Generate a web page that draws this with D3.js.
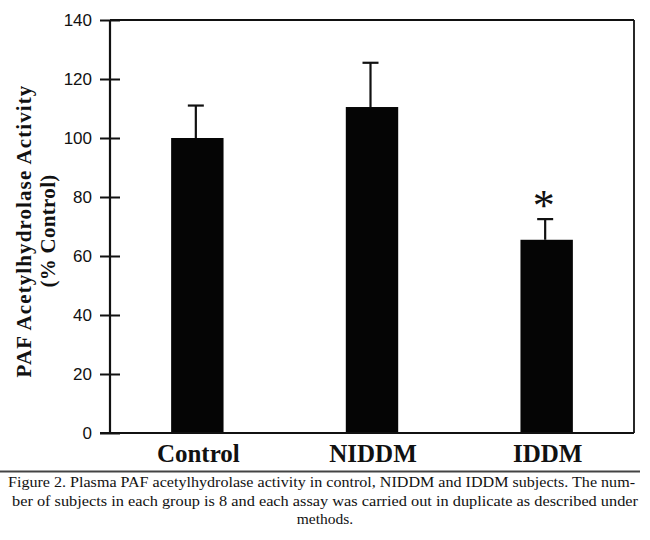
<!DOCTYPE html>
<html>
<head>
<meta charset="utf-8">
<script src="https://cdn.jsdelivr.net/npm/d3@7"></script>
<style>
  html, body { margin: 0; padding: 0; background: #fff; }
  svg { display: block; }
</style>
</head>
<body>
<svg id="chart" width="650" height="540"></svg>
<script>
const categories = ["Control", "NIDDM", "IDDM"];
const values = [100, 110.5, 65.5];
const errors = [11, 15, 7];
const significant = [false, false, true];
const yTicks = [0, 20, 40, 60, 80, 100, 120, 140];
const yLabelLines = ["PAF Acetylhydrolase Activity", "(% Control)"];
const captionLines = [
  "Figure 2. Plasma PAF acetylhydrolase activity in control, NIDDM and IDDM subjects. The num-",
  "ber of subjects in each group is 8 and each assay was carried out in duplicate as described under",
  "methods."
];

const svg = d3.select("#chart");
const plotLeft = 110, plotRight = 634, plotTop = 20, plotBottom = 433;

const x = d3.scaleBand().domain(categories).range([plotLeft, plotRight])
  .paddingInner(0.7).paddingOuter(0.35);
const y = d3.scaleLinear().domain([0, 140]).range([plotBottom, plotTop]);

// bars
svg.append("g").selectAll("rect").data(categories).join("rect")
  .attr("x", d => x(d))
  .attr("width", x.bandwidth())
  .attr("y", (d, i) => y(values[i]))
  .attr("height", (d, i) => y(0) - y(values[i]))
  .attr("fill", "#050505");

// error bars
const eg = svg.append("g").attr("stroke", "#111").attr("stroke-width", 2.2);
categories.forEach((c, i) => {
  const cx = x(c) + x.bandwidth() / 2 - 1.5;
  eg.append("line").attr("x1", cx).attr("x2", cx)
    .attr("y1", y(values[i])).attr("y2", y(values[i] + errors[i]));
  eg.append("line").attr("x1", cx - 8).attr("x2", cx + 8)
    .attr("y1", y(values[i] + errors[i])).attr("y2", y(values[i] + errors[i]));
});

// significance asterisk
svg.append("g").selectAll("text").data(categories.filter((c, i) => significant[i])).join("text")
  .attr("x", d => x(d) + x.bandwidth() / 2 - 3)
  .attr("y", d => y(values[categories.indexOf(d)] + errors[categories.indexOf(d)]) + 1)
  .attr("text-anchor", "middle")
  .attr("font-family", "Liberation Serif")
  .attr("font-size", 44)
  .attr("fill", "#111")
  .text("*");

// y axis
const yAxis = d3.axisLeft(y).tickValues(yTicks).tickSize(10).tickPadding(8);
const ya = svg.append("g").attr("transform", `translate(${plotLeft},0)`).call(yAxis);
ya.select(".domain").remove();
ya.selectAll(".tick line").attr("x1", 10).attr("x2", -10).attr("stroke", "#111").attr("stroke-width", 2);
ya.selectAll(".tick text").attr("font-family", "Liberation Sans").attr("font-size", 17).attr("fill", "#111");

// frame
const fg = svg.append("g").attr("fill", "none").attr("stroke", "#111");
fg.append("line").attr("x1", plotLeft).attr("x2", plotLeft).attr("y1", plotTop).attr("y2", plotBottom).attr("stroke-width", 2.2);
fg.append("line").attr("x1", plotLeft).attr("x2", plotRight).attr("y1", plotTop).attr("y2", plotTop).attr("stroke-width", 1.8);
fg.append("line").attr("x1", plotRight).attr("x2", plotRight).attr("y1", plotTop).attr("y2", plotBottom).attr("stroke-width", 1.8);
fg.append("line").attr("x1", plotLeft - 10).attr("x2", plotRight).attr("y1", plotBottom).attr("y2", plotBottom).attr("stroke-width", 2);

// x labels
svg.append("g").selectAll("text").data(categories).join("text")
  .attr("x", d => x(d) + x.bandwidth() / 2 + 1)
  .attr("y", 461.5)
  .attr("text-anchor", "middle")
  .attr("font-family", "Liberation Serif")
  .attr("font-weight", "bold")
  .attr("font-size", 25)
  .attr("fill", "#111")
  .text(d => d);

// y label
const yl = svg.append("g").attr("transform", "translate(0,231) rotate(-90)");
yl.selectAll("text").data(yLabelLines).join("text")
  .attr("x", 0)
  .attr("y", (d, i) => 31 + i * 24)
  .attr("text-anchor", "middle")
  .attr("font-family", "Liberation Serif")
  .attr("font-weight", "bold")
  .attr("font-size", 21)
  .attr("letter-spacing", (d, i) => i === 0 ? 1.1 : 0.3)
  .attr("fill", "#111")
  .text(d => d);

// separator
svg.append("line").attr("x1", 0).attr("x2", 640).attr("y1", 471.5).attr("y2", 471.5)
  .attr("stroke", "#444").attr("stroke-width", 2);

// caption
const capX = [[8, 627], [12, 626], null];
svg.append("g").selectAll("text").data(captionLines).join("text")
  .attr("x", (d, i) => capX[i] ? capX[i][0] : 325)
  .attr("y", (d, i) => 487 + i * 18.5)
  .attr("text-anchor", (d, i) => capX[i] ? "start" : "middle")
  .attr("font-family", "Liberation Serif")
  .attr("font-size", 15.5)
  .attr("fill", "#111")
  .each(function(d, i) {
    if (capX[i]) d3.select(this).attr("textLength", capX[i][1]).attr("lengthAdjust", "spacingAndGlyphs");
  })
  .text(d => d);
</script>
</body>
</html>
